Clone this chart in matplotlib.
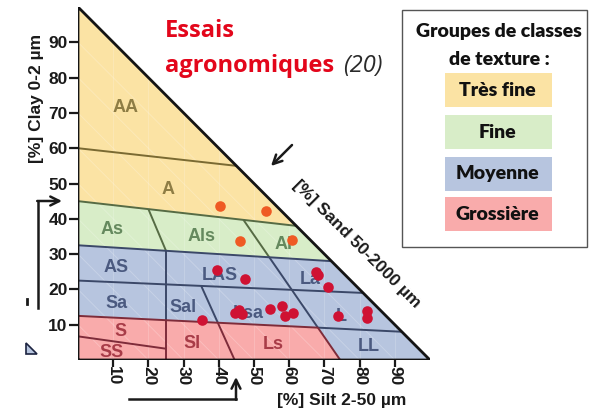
import numpy as np
import matplotlib
matplotlib.use('Agg')
from matplotlib import pyplot as plt
from matplotlib.patches import Polygon, Rectangle
from matplotlib.lines import Line2D

plt.rcParams['font.family'] = ['Liberation Sans', 'DejaVu Sans']

# field trial samples (silt %, clay %)
upper_silt = [40.3, 53.4, 46.0, 60.7]
upper_clay = [43.7, 42.1, 33.6, 34.1]
lower_silt = [39.4, 47.4, 35.3, 44.6, 45.8, 54.5, 57.9, 58.8, 61.2,
              67.5, 68.3, 71.1, 73.9, 82.0, 82.0, 46.6]
lower_clay = [25.4, 22.9, 11.4, 13.3, 14.3, 14.4, 15.4, 12.5, 13.3,
              25.0, 24.0, 20.7, 12.4, 13.8, 11.9, 13.0]

# texture class labels and their anchor (silt, clay)
class_names = ['AA', 'A', 'As', 'Als', 'Al', 'AS', 'LAS', 'La', 'Sa', 'Sal',
               'Lsa', 'L', 'S', 'SS', 'Sl', 'Ls', 'LL']
class_silt = [13.6, 25.7, 9.6, 35.1, 58.3, 10.8, 40.3, 65.9, 11.0, 29.9,
              48.4, 74.9, 12.1, 9.6, 32.3, 55.5, 82.5]
class_clay = [71.4, 48.4, 37.1, 35.0, 32.7, 26.2, 23.9, 22.7, 16.1, 15.0,
              13.3, 12.2, 8.1, 2.2, 4.8, 4.3, 3.7]
class_group = ['tf', 'tf', 'f', 'f', 'f', 'm', 'm', 'm', 'm', 'm',
               'm', 'm', 'g', 'g', 'g', 'g', 'm']

group_labels = ['Très fine', 'Fine', 'Moyenne', 'Grossière']
group_keys = ['tf', 'f', 'm', 'g']
fill = {'tf': '#fbe3a4', 'f': '#d8edc8', 'm': '#b7c5df', 'g': '#f9abab'}
text_col = {'tf': '#8e7d45', 'f': '#65895e', 'm': '#4b5a80', 'g': '#a83c48'}
edge_col = {'tf': '#7a6a32', 'f': '#566b44', 'm': '#3b4868', 'g': '#7e2c3a'}

W, H = 592, 411


def fpx(x, y):
    # pixel position (from top-left) -> figure fraction
    return x / W, 1 - y / H


def seg_cross(a, b, c, d):
    a, b, c, d = map(np.asarray, (a, b, c, d))
    r, s = b - a, d - c
    t = np.cross(c - a, s) / np.cross(r, s)
    return tuple(a + t * r)


# class boundaries (silt, clay)
L1 = [(0, 60), (45, 55)]
L2 = [(0, 45), (62, 38)]
L3 = [(0, 32.5), (72, 28)]
L4 = [(0, 22.5), (81, 19)]
L5 = [(0, 12.5), (92, 8)]
L6 = [(0, 6.7), (25, 3.2)]
V1 = [(25, 0), (25, 40)]
D1 = [(35, 21.0), (44.5, 0)]
D2 = [(47, 39.7), (74.5, 0)]
AsAls_top = seg_cross(*L2, (20, 50), (20, 0))
AsAls_bot = seg_cross(*L3, *V1)
d2_l3 = seg_cross(*D2, *L3)
d2_l5 = seg_cross(*D2, *L5)
d1_l5 = seg_cross(*D1, *L5)
v1_l5 = seg_cross(*V1, *L5)

fig = plt.figure(figsize=(W / 100, H / 100), dpi=100)
ax = fig.add_axes([78 / W, 1 - 360 / H, 352 / W, 353 / H])
ax.set_xlim(0, 100)
ax.set_ylim(0, 100)
for sp in ax.spines.values():
    sp.set_visible(False)

tri = [(0, 100), (0, 0), (100, 0)]
ax.add_patch(Polygon(tri, closed=True, fc=fill['m'], ec='none', zorder=1))
ax.add_patch(Polygon([(0, 100), L2[0], L2[1]], fc=fill['tf'], ec='none', zorder=1))
ax.add_patch(Polygon([L2[0], L2[1], L3[1], L3[0]], fc=fill['f'], ec='none', zorder=1))
ax.add_patch(Polygon([L5[0], d2_l5, D2[1], (0, 0)], fc=fill['g'], ec='none', zorder=1))

# faint grid inside the triangle
clip = Polygon(tri, closed=True, transform=ax.transData)
for k in range(10, 100, 10):
    ln, = ax.plot([0, k], [k, 0], color='white', lw=0.7, alpha=0.22, zorder=2)
    ln.set_clip_path(clip)
    ln, = ax.plot([k, k], [0, 100 - k], color='white', lw=0.7, alpha=0.18, zorder=2)
    ln.set_clip_path(clip)

segments = [
    (L1, 'tf'), (L2, 'f'), ([AsAls_top, AsAls_bot], 'f'), ([D2[0], d2_l3], 'f'),
    (L3, 'm'), ([AsAls_bot, v1_l5], 'm'), (L4, 'm'),
    ([D1[0], d1_l5], 'm'), ([d2_l3, d2_l5], 'm'), ([d2_l5, L5[1]], 'm'),
    ([L5[0], d2_l5], 'g'), ([v1_l5, (25, 0)], 'g'), (L6, 'g'),
    ([d1_l5, D1[1]], 'g'), ([d2_l5, D2[1]], 'g'),
]
for pts, g in segments:
    xs, ys = zip(*pts)
    ax.plot(xs, ys, color=edge_col[g], lw=1.4, zorder=3, solid_capstyle='butt')

ax.plot([0, 0, 100, 0], [0, 100, 0, 0], color='#141414', lw=2.0, zorder=4,
        solid_joinstyle='miter')

for name, sx, cy, g in zip(class_names, class_silt, class_clay, class_group):
    ax.text(sx, cy, name, color=text_col[g], fontsize=13, fontweight='bold',
            ha='center', va='center', zorder=5)

ax.scatter(upper_silt, upper_clay, s=58, color='#ef5a24', lw=0, zorder=6)
ax.scatter(lower_silt, lower_clay, s=58, color='#cf1233', lw=0, zorder=6)

ax.set_xticks(range(10, 100, 10))
ax.set_yticks(range(10, 100, 10))
ax.set_xticklabels([str(v) for v in range(10, 100, 10)], rotation=-90,
                   fontsize=12.5, fontweight='bold')
ax.set_yticklabels([str(v) for v in range(10, 100, 10)],
                   fontsize=12.5, fontweight='bold')
ax.tick_params(axis='y', direction='out', length=6.5, width=1.6, pad=1, colors='#1a1a1a')
ax.tick_params(axis='x', direction='out', length=5, width=1.6, pad=-1, colors='#1a1a1a')

# axis titles
fig.text(*fpx(36, 98), '[%] Clay 0-2 µm', rotation=90, fontsize=12.5,
         fontweight='bold', ha='center', va='center', color='#1a1a1a')
fig.text(*fpx(342, 400), '[%] Silt 2-50 µm', fontsize=12.5,
         fontweight='bold', ha='center', va='center', color='#1a1a1a')
fig.text(*fpx(357, 244), '[%] Sand 50-2000 µm', rotation=-45, fontsize=12.5,
         fontweight='bold', ha='center', va='center', color='#1a1a1a',
         rotation_mode='anchor')

# reading arrows
arrow = dict(arrowstyle='->', color='#1a1a1a', lw=1.8, mutation_scale=16,
             shrinkA=0, shrinkB=0)
fig.add_artist(Line2D(*zip(fpx(38, 308), fpx(38, 201)), color='#1a1a1a', lw=1.8))
ax.annotate('', xy=fpx(62, 201), xytext=fpx(37.2, 201), xycoords='figure fraction',
            arrowprops=arrow, annotation_clip=False)
fig.add_artist(Line2D(*zip(fpx(129, 399), fpx(236, 399)), color='#1a1a1a', lw=1.8))
ax.annotate('', xy=fpx(236, 377), xytext=fpx(236, 399.8), xycoords='figure fraction',
            arrowprops=arrow, annotation_clip=False)
ax.annotate('', xy=fpx(271, 166), xytext=fpx(292, 145), xycoords='figure fraction',
            arrowprops=arrow, annotation_clip=False)

# leftover marks at the left edge
fig.add_artist(Polygon([fpx(26, 343), fpx(26, 354), fpx(37, 354)], closed=True,
                       fc=fill['m'], ec='#1c2340', lw=1.2, transform=fig.transFigure))
fig.add_artist(Line2D(*zip(fpx(27, 299), fpx(27, 304)), color='#1a1a1a', lw=2))

# title
title_font = dict(family=['Open Sans', 'DejaVu Sans'], fontsize=17, fontweight='bold',
                  color='#e3061b', ha='left', va='baseline')
fig.text(*fpx(165, 37), 'Essais', **title_font)
fig.text(*fpx(165, 72), 'agronomiques', **title_font)
n_samples = len(upper_silt) + len(lower_silt)
fig.text(*fpx(343, 72), f'({n_samples})', family=['Open Sans', 'DejaVu Sans'],
         fontsize=17, style='italic', color='#2a2a2a', ha='left', va='baseline')

# legend of texture groups
fig.add_artist(Rectangle(fpx(402, 247), 185 / W, 237 / H, fc='white', ec='#555555',
                         lw=1.0, transform=fig.transFigure))
leg_font = dict(family=['Lato', 'DejaVu Sans'], fontweight='heavy', color='#111111',
                ha='center')
fig.text(*fpx(499, 37), 'Groupes de classes', fontsize=14, va='baseline', **leg_font)
fig.text(*fpx(499, 65), 'de texture :', fontsize=14, va='baseline', **leg_font)
box_top = [73, 115, 157, 197]
for lab, key, top in zip(group_labels, group_keys, box_top):
    fig.add_artist(Rectangle(fpx(445, top + 34), 107 / W, 34 / H, fc=fill[key],
                             ec='none', transform=fig.transFigure))
    fig.text(*fpx(497, top + 17), lab, fontsize=14, va='center', **leg_font)

fig.savefig('out.png', dpi=100)
